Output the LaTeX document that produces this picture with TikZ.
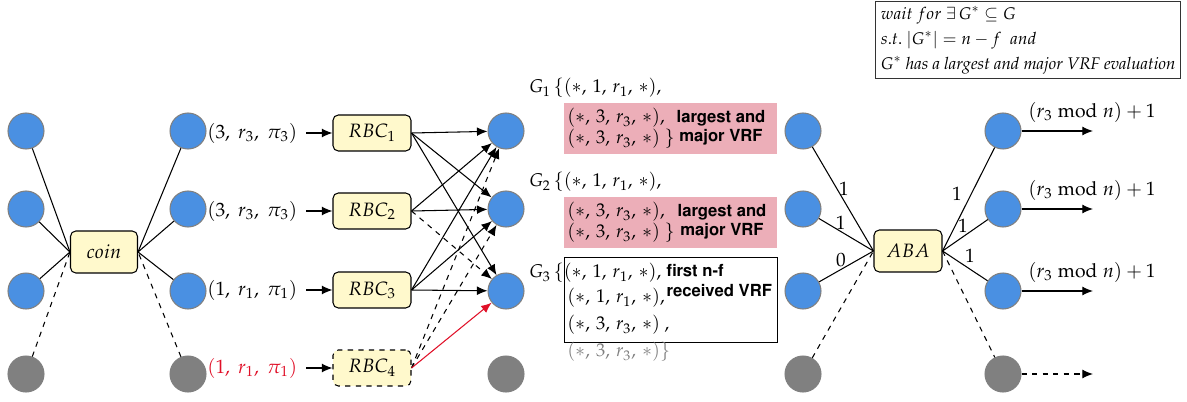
\documentclass[tikz,border=0pt]{standalone}
\usepackage[T1]{fontenc}
\usepackage{mathpazo}
\usepackage[scaled=0.92]{helvet}
\usetikzlibrary{arrows.meta}

\definecolor{partyblue}{RGB}{74,144,226}
\definecolor{faultygray}{RGB}{128,128,128}
\definecolor{boxyellow}{RGB}{255,249,204}
\definecolor{vrfpink}{RGB}{236,174,184}
\definecolor{msgred}{RGB}{224,16,40}

\tikzset{
  party/.style = {circle, draw = gray, fill = partyblue, minimum size = 0.72cm, inner sep = 0pt},
  faulty/.style = {party, fill = faultygray},
  protocol/.style = {draw, rounded corners = 3pt, fill = boxyellow, inner sep = 0pt,
    font = \fontsize{11}{13}\selectfont},
  rbcbox/.style = {protocol, minimum width = 1.56cm, minimum height = 0.72cm},
  msg/.style = {inner sep = 1pt, font = \fontsize{11}{13}\selectfont},
  msgarrow/.style = {-{Latex[length = 6pt, width = 5pt]}},
  vrfset/.style = {inner sep = 1pt, anchor = west, font = \fontsize{10.5}{12}\selectfont},
  vrfnote/.style = {inner sep = 0pt, align = center,
    font = \fontsize{10.3}{11}\sffamily\bfseries\selectfont},
}

\begin{document}
\begin{tikzpicture}[x = 0.02cm, y = -0.02cm, line width = 0.6pt]
  \useasboundingbox (0, 0) rectangle (1187, 402);

  % parties
  % -------
  \foreach \col/\x in {a/26, b/188, c/506, d/803, e/1003} {
    \foreach \row/\y in {1/131, 2/209, 3/291}
      \node [party] (\col\row) at (\x, \y) {};
    \node [faulty] (\col4) at (\x, 374) {};
  }

  % coin
  % ----
  \node [protocol, minimum width = 1.34cm, minimum height = 0.84cm] (coin) at (104, 252) {$coin$};
  \foreach \i in {1, 2, 3} {
    \draw (a\i) -- (coin.west);
    \draw (b\i) -- (coin.east);
  }
  \draw [dashed] (a4) -- (coin.west);
  \draw [dashed] (b4) -- (coin.east);

  % reliable broadcast
  % ------------------
  \node [msg, anchor = west] (in1) at (205, 133) {$(3,\ r_3,\ \pi_3)$};
  \node [msg, anchor = west] (in2) at (205, 211) {$(3,\ r_3,\ \pi_3)$};
  \node [msg, anchor = west] (in3) at (205, 290) {$(1,\ r_1,\ \pi_1)$};
  \node [msg, anchor = west, text = msgred] (in4) at (205, 368) {$(1,\ r_1,\ \pi_1)$};

  \foreach \i/\y in {1/133, 2/211, 3/290}
    \node [rbcbox] (rbc\i) at (372, \y) {$RBC_\i$};
  \node [rbcbox, dashed] (rbc4) at (372, 368) {$RBC_4$};

  \foreach \i in {1, 2, 3, 4}
    \draw [msgarrow, shorten <= 4pt] (in\i.east) -- (rbc\i.west);

  \foreach \s/\t in {1/1, 1/2, 1/3, 2/1, 2/2, 3/1, 3/2, 3/3}
    \draw [msgarrow] (rbc\s.east) -- (c\t);
  \draw [msgarrow, dashed] (rbc2.east) -- (c3);
  \draw [msgarrow, dashed] (rbc4.east) -- (c1);
  \draw [msgarrow, dashed] (rbc4.east) -- (c2);
  \draw [msgarrow, msgred] (rbc4.east) -- (c3);

  % received sets
  % -------------
  \node [fill = vrfpink, minimum width = 4.28cm, minimum height = 1.02cm, anchor = north west, inner sep = 0pt]
    (g1box) at (563, 102) {};
  \node [fill = vrfpink, minimum width = 4.28cm, minimum height = 1.02cm, anchor = north west, inner sep = 0pt]
    (g2box) at (563, 196) {};
  \node [draw, minimum width = 4.26cm, minimum height = 1.70cm, anchor = north west, inner sep = 0pt]
    (g3box) at (564, 257) {};

  \node [vrfset] (g1a) at (527, 88) {$G_1\,\{(*,\,1,\,r_1,\,*),$};
  \node [vrfset] (g1b) at (565, 118) {$(*,\,3,\,r_3,\,*),$};
  \node [vrfset] (g1c) at (565, 139) {$(*,\,3,\,r_3,\,*)\ \}$};
  \node [vrfnote] (g1note) at (721, 128) {largest and\\major VRF};

  \node [vrfset] (g2a) at (527, 182) {$G_2\,\{(*,\,1,\,r_1,\,*),$};
  \node [vrfset] (g2b) at (565, 212) {$(*,\,3,\,r_3,\,*),$};
  \node [vrfset] (g2c) at (565, 233) {$(*,\,3,\,r_3,\,*)\ \}$};
  \node [vrfnote] (g2note) at (722, 222) {largest and\\major VRF};

  \node [vrfset] (g3a) at (527, 273) {$G_3\,\{(*,\,1,\,r_1,\,*),$};
  \node [vrfset] (g3b) at (565, 298) {$(*,\,1,\,r_1,\,*),$};
  \node [vrfset] (g3c) at (565, 325) {$(*,\,3,\,r_3,\,*)\ ,$};
  \node [vrfset, text = gray] (g3d) at (565, 352) {$(*,\,3,\,r_3,\,*)\}$};
  \node [vrfnote, align = left, anchor = north west] (g3note) at (666, 264) {first n-f\\received VRF};

  % agreement
  % ---------
  \node [protocol, minimum width = 1.36cm, minimum height = 0.84cm] (aba) at (908, 251) {$ABA$};
  \draw (d1) -- node [msg, pos = 0.4, right] (w1) {1} (aba.west);
  \draw (d2) -- node [msg, pos = 0.4, above] (w2) {1} (aba.west);
  \draw (d3) -- node [msg, pos = 0.4, above] (w3) {0} (aba.west);
  \draw [dashed] (d4) -- (aba.west);

  \draw (aba.east) -- node [msg, pos = 0.55, left = 4pt] (v1) {1} (e1);
  \draw (aba.east) -- node [msg, pos = 0.45, above = 1pt] (v2) {1} (e2);
  \draw (aba.east) -- node [msg, pos = 0.45, above right = 0pt] (v3) {1} (e3);
  \draw [dashed] (aba.east) -- (e4);

  \foreach \i/\y in {1/131, 2/209, 3/291} {
    \coordinate (out\i) at (1093, \y);
    \draw [msgarrow] (e\i) -- (out\i);
    \node [msg, anchor = west] (res\i) at (1026, \y - 19) {$(r_3 \bmod n) + 1$};
  }
  \coordinate (out4) at (1093, 374);
  \draw [msgarrow, dashed] (e4) -- (out4);

  % condition
  % ---------
  \node [draw = black!80, anchor = north west, align = left, inner sep = 3pt,
    font = \fontsize{9.6}{14.2}\selectfont] (cond) at (875, 1)
    {$wait\ for\ \exists\,G^* \subseteq G$\\
     $s.t.\ |G^*| = n - f\ \ and$\\
     $G^*$ \textit{has a largest and major VRF evaluation}};
\end{tikzpicture}
\end{document}
